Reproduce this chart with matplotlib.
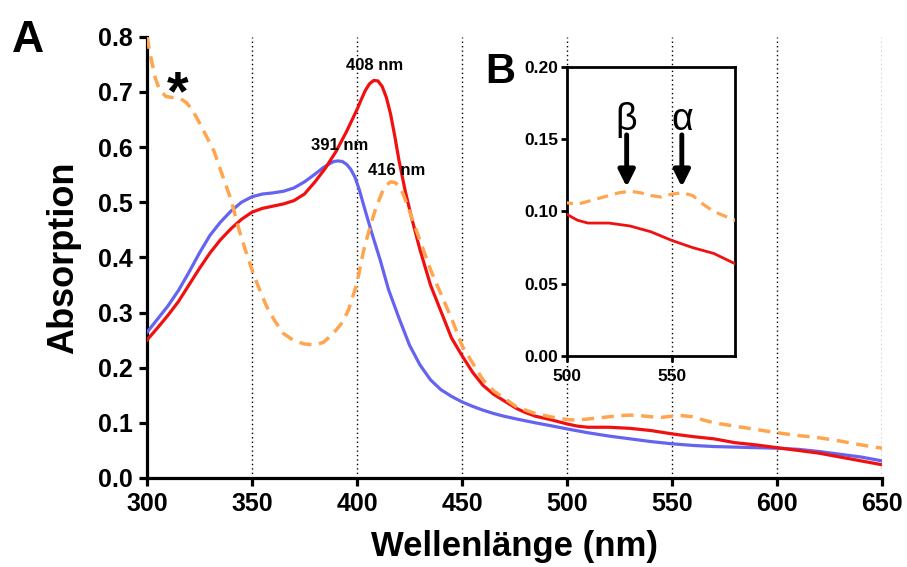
import matplotlib
matplotlib.use("Agg")
import matplotlib.pyplot as plt

plt.rcParams['font.family'] = ['Liberation Sans', 'DejaVu Sans']
plt.rcParams['font.weight'] = 'bold'

# ---------------- data ----------------
red_x = [300, 305, 310, 315, 320, 325, 330, 335, 340, 345, 350, 355, 360, 365, 370, 375, 380, 385, 390,
         395, 400, 402, 404, 406, 408, 410, 412, 414, 416, 418, 420, 423, 426, 430, 435, 440, 445, 450,
         455, 460, 465, 470, 476, 480, 485, 492, 500, 505, 510, 520, 530, 540, 550, 560, 570, 580, 590,
         600, 610, 620, 630, 640, 650]
red_y = [0.250, 0.272, 0.295, 0.320, 0.350, 0.380, 0.408, 0.432, 0.452, 0.469, 0.482, 0.489, 0.493,
         0.497, 0.503, 0.515, 0.537, 0.562, 0.592, 0.628, 0.668, 0.686, 0.703, 0.715, 0.721, 0.720,
         0.710, 0.690, 0.660, 0.620, 0.576, 0.520, 0.472, 0.414, 0.350, 0.302, 0.254, 0.222, 0.192,
         0.168, 0.152, 0.140, 0.126, 0.119, 0.112, 0.106, 0.098, 0.094, 0.092, 0.092, 0.090, 0.086,
         0.080, 0.075, 0.071, 0.064, 0.060, 0.055, 0.050, 0.045, 0.038, 0.031, 0.024]

blue_x = [300, 305, 310, 315, 320, 325, 330, 335, 340, 345, 350, 355, 360, 365, 370, 375, 380, 384, 387,
          389, 391, 393, 395, 397, 399, 401, 404, 407, 411, 415, 420, 425, 430, 435, 440, 445, 450, 455,
          460, 465, 470, 476, 485, 492, 500, 510, 520, 530, 540, 550, 560, 570, 580, 590, 600, 610, 620,
          630, 640, 650]
blue_y = [0.264, 0.288, 0.312, 0.340, 0.373, 0.408, 0.440, 0.464, 0.484, 0.500, 0.510, 0.515, 0.517,
          0.520, 0.526, 0.537, 0.551, 0.563, 0.570, 0.574, 0.575, 0.574, 0.569, 0.560, 0.546, 0.524,
          0.484, 0.445, 0.396, 0.342, 0.290, 0.241, 0.205, 0.178, 0.160, 0.148, 0.138, 0.130, 0.123,
          0.117, 0.112, 0.107, 0.100, 0.095, 0.089, 0.082, 0.076, 0.071, 0.066, 0.062, 0.059, 0.057,
          0.056, 0.055, 0.054, 0.052, 0.048, 0.043, 0.038, 0.031]

orange_x = [300, 302, 304, 306, 309, 312, 316, 319, 322, 325, 328, 332, 336, 340, 344, 348, 351, 354,
            357, 361, 365, 370, 375, 380, 384, 387, 390, 393, 396, 400, 403, 406, 409, 412, 414, 416,
            418, 420, 422, 425, 428, 431, 435, 438, 442, 446, 450, 454, 460, 465, 470, 476, 484, 492,
            500, 505, 510, 515, 520, 525, 530, 535, 540, 545, 550, 555, 560, 565, 570, 575, 580, 590,
            600, 610, 620, 630, 640, 650]
orange_y = [0.800, 0.760, 0.725, 0.704, 0.692, 0.690, 0.688, 0.680, 0.665, 0.644, 0.622, 0.592, 0.548,
            0.505, 0.448, 0.400, 0.367, 0.338, 0.311, 0.284, 0.262, 0.249, 0.243, 0.241, 0.246, 0.256,
            0.268, 0.282, 0.305, 0.353, 0.410, 0.452, 0.490, 0.518, 0.531, 0.537, 0.536, 0.530, 0.515,
            0.484, 0.452, 0.420, 0.378, 0.351, 0.316, 0.280, 0.240, 0.215, 0.178, 0.158, 0.145, 0.129,
            0.118, 0.111, 0.106, 0.105, 0.107, 0.109, 0.111, 0.113, 0.114, 0.113, 0.111, 0.110, 0.112,
            0.113, 0.111, 0.105, 0.100, 0.097, 0.094, 0.088, 0.082, 0.077, 0.073, 0.067, 0.060, 0.054]

main_xticks = [300, 350, 400, 450, 500, 550, 600, 650]
main_yticks = [0.0, 0.1, 0.2, 0.3, 0.4, 0.5, 0.6, 0.7, 0.8]
inset_xticks = [500, 550]
inset_yticks = [0.00, 0.05, 0.10, 0.15, 0.20]

peak_labels = [("408 nm", 408.6, 0.748), ("391 nm", 391.9, 0.603), ("416 nm", 419.0, 0.557)]

RED = '#f01010'
BLUE = '#6464f0'
ORANGE = '#ffa54f'

fig = plt.figure(figsize=(9.07, 5.67), dpi=100)
ax = fig.add_axes([0.162, 0.157, 0.8105, 0.778])

for xv in main_xticks[1:]:
    ax.axvline(xv, color='black', lw=1.0, ls=(0, (1, 2.2)), zorder=1)

ax.plot(blue_x, blue_y, color=BLUE, lw=2.3, zorder=3)
ax.plot(red_x, red_y, color=RED, lw=2.3, zorder=4)
ax.plot(orange_x, orange_y, color=ORANGE, lw=2.5, ls=(0, (3.5, 2.2)), zorder=5)

ax.set_xlim(300, 650)
ax.set_ylim(0, 0.8)
ax.set_xticks(main_xticks)
ax.set_yticks(main_yticks)
ax.set_yticklabels([f"{v:.1f}" for v in main_yticks])
for s in ['top', 'right']:
    ax.spines[s].set_visible(False)
for s in ['left', 'bottom']:
    ax.spines[s].set_linewidth(2.3)
ax.tick_params(direction='out', length=6, width=2.3, labelsize=18, pad=4)
for lab in ax.get_xticklabels() + ax.get_yticklabels():
    lab.set_fontweight('bold')
ax.set_xlabel("Wellenlänge (nm)", fontsize=25, fontweight='bold', labelpad=10)
ax.set_ylabel("Absorption", fontsize=26, fontweight='bold', labelpad=12)

for txt, xx, yy in peak_labels:
    ax.text(xx, yy, txt, fontsize=12, fontweight='bold', ha='center', va='center', zorder=6)
ax.text(314.8, 0.668, "*", fontsize=40, fontweight='bold', ha='center', va='baseline', zorder=6)

fig.text(0.031, 0.929, "A", fontsize=32, fontweight='bold', ha='center', va='center')
fig.text(0.551, 0.873, "B", fontsize=30, fontweight='bold', ha='center', va='center')

# ---------------- inset ----------------
axi = fig.add_axes([0.625, 0.372, 0.185, 0.510], zorder=10)
axi.set_facecolor('white')
axi.axvline(550, color='black', lw=1.0, ls=(0, (1, 2.2)), zorder=1)
axi.plot(red_x, red_y, color=RED, lw=2.0, zorder=3)
axi.plot(orange_x, orange_y, color=ORANGE, lw=2.3, ls=(0, (3.5, 2.2)), zorder=4)
axi.set_xlim(500, 580)
axi.set_ylim(0, 0.20)
axi.set_xticks(inset_xticks)
axi.set_yticks(inset_yticks)
axi.set_yticklabels([f"{v:.2f}" for v in inset_yticks])
for s in axi.spines.values():
    s.set_linewidth(2.0)
axi.tick_params(direction='out', length=4, width=2.0, labelsize=12.5, pad=2)
axi.tick_params(axis='x', pad=5)
for lab in axi.get_xticklabels() + axi.get_yticklabels():
    lab.set_fontweight('bold')

for sym, xx in [("β", 528.5), ("α", 554.8)]:
    axi.text(xx, 0.163, sym, fontsize=27, fontweight='normal', ha='center', va='center',
             family=['Liberation Sans', 'DejaVu Sans'])
    axi.annotate('', xy=(xx, 0.117), xytext=(xx, 0.153),
                 arrowprops=dict(arrowstyle='-|>,head_length=0.7,head_width=0.35', lw=3.5,
                                 color='black', shrinkA=0, shrinkB=0, mutation_scale=14))

fig.savefig("out.png", dpi=100)
